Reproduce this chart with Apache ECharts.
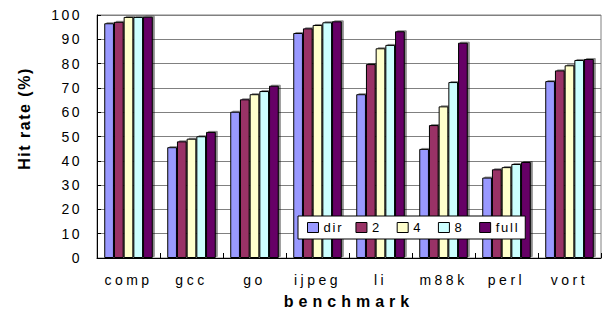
<!DOCTYPE html>
<html><head><meta charset="utf-8">
<script src="https://cdn.jsdelivr.net/npm/echarts@6/dist/echarts.min.js"></script>
<style>html,body{margin:0;padding:0;background:#fff}#c{width:602px;height:320px}</style>
</head><body><div id="c"></div>
<script>
var categories = ['comp','gcc','go','ijpeg','li','m88k','perl','vort'];
var seriesNames = ['dir','2','4','8','full'];
var dirVals  = [96.6, 45.6, 60.2, 92.6, 67.4, 44.9, 33.1, 72.8];
var twoVals  = [97.2, 48.0, 65.3, 94.5, 79.8, 54.7, 36.5, 77.2];
var fourVals = [99.2, 49.1, 67.4, 95.9, 86.3, 62.4, 37.4, 79.3];
var eightVals= [99.2, 50.1, 68.7, 97.0, 87.7, 72.4, 38.7, 81.5];
var fullVals = [99.3, 51.9, 70.9, 97.4, 93.3, 88.6, 39.5, 81.9];
var yTicks = [0,10,20,30,40,50,60,70,80,90,100];
var xTitle = 'benchmark';
var yTitle = 'Hit rate (%)';
var colors = ['#9999FF','#993366','#FFFFCC','#CCFFFF','#660066'];
var allVals = [dirVals, twoVals, fourVals, eightVals, fullVals];

var chart = echarts.init(document.getElementById('c'), null, {renderer:'svg'});
var font = 'Arial, "Liberation Sans", sans-serif';
chart.setOption({
  animation: false,
  textStyle: {fontFamily: font},
  grid: {left: 97, right: 1, top: 15, bottom: 62, show: true, borderColor: '#808080', borderWidth: 1},
  graphic: [{
    type: 'text', x: 24, y: 118.5, rotation: Math.PI / 2, z: 10,
    style: {text: yTitle, font: 'bold 16px ' + font, fill: '#000', align: 'center', verticalAlign: 'middle'}
  }],
  legend: {
    data: seriesNames, left: 298, top: 216, orient: 'horizontal',
    backgroundColor: '#fff', borderColor: '#000', borderWidth: 1,
    padding: [5, 13, 5, 9], itemWidth: 11, itemHeight: 10, itemGap: 17.5,
    icon: 'rect',
    itemStyle: {borderColor: '#000', borderWidth: 1, shadowBlur: 0, shadowColor: 'transparent', shadowOffsetX: 0, shadowOffsetY: 0},
    textStyle: {fontSize: 13, color: '#000', fontFamily: font}
  },
  xAxis: {
    type: 'category', data: categories,
    name: xTitle, nameLocation: 'middle', nameGap: 35,
    nameTextStyle: {fontSize: 16, fontWeight: 'bold', color: '#000', fontFamily: font},
    axisLine: {lineStyle: {color: '#000', width: 1}},
    axisTick: {show: true, inside: true, length: 5, lineStyle: {color: '#000'}},
    axisLabel: {fontSize: 14, color: '#000', margin: 15, fontFamily: font, interval: 0},
    splitLine: {show: false}
  },
  yAxis: {
    type: 'value', min: 0, max: 100, interval: 10,
    axisLine: {show: true, lineStyle: {color: '#000', width: 1}},
    axisTick: {show: true, inside: true, length: 4, lineStyle: {color: '#000'}},
    axisLabel: {fontSize: 14, color: '#000', margin: 15, fontFamily: font},
    splitLine: {show: true, lineStyle: {color: '#808080', width: 1}}
  },
  series: seriesNames.map(function(n, i){
    return {
      name: n, type: 'bar', data: allVals[i],
      barGap: '0%', barCategoryGap: '23%',
      itemStyle: {color: colors[i], borderColor: '#000', borderWidth: 1,
        shadowColor: 'rgba(0,0,0,0.45)', shadowOffsetX: 2, shadowOffsetY: -1, shadowBlur: 0}
    };
  })
});

// widen the letter spacing of the texts, like the reference rendering
function spaceText() {
  var yStr = yTicks.map(String);
  var texts = document.querySelectorAll('#c svg text');
  texts.forEach(function (t) {
    var s = t.textContent;
    var ls = null;
    if (s === xTitle) ls = 5;
    else if (s === yTitle) ls = 1.5;
    else if (categories.indexOf(s) >= 0) ls = 3.5;
    else if (seriesNames.indexOf(s) >= 0) ls = 1.8;
    else if (yStr.indexOf(s) >= 0) ls = 2.5;
    if (ls !== null) t.setAttribute('letter-spacing', ls + 'px');
  });
}
chart.on('finished', spaceText);
spaceText();
</script></body></html>
